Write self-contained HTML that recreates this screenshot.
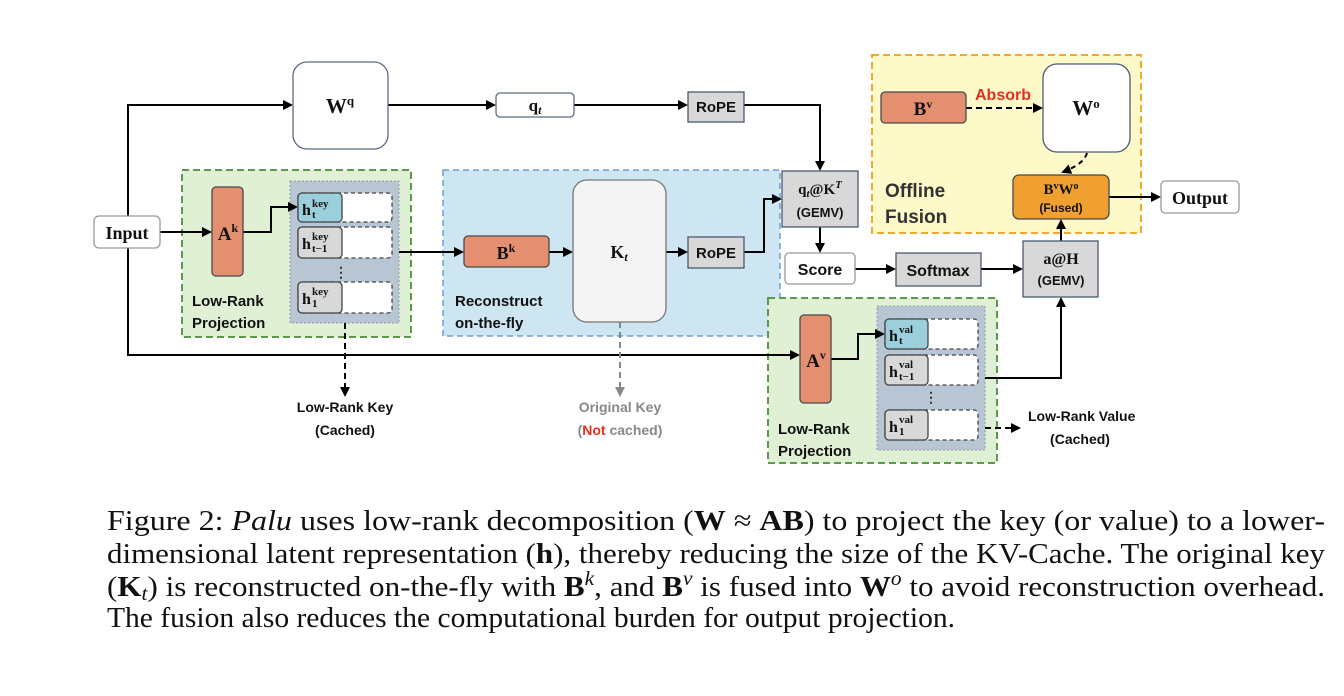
<!DOCTYPE html>
<html><head><meta charset="utf-8"><style>
html,body{margin:0;padding:0;background:#fff;}
svg{display:block;}
.s{font-family:"Liberation Sans",sans-serif;font-weight:bold;}
.m{font-family:"Liberation Serif",serif;font-weight:bold;}
.c{font-family:"Liberation Serif",serif;font-size:29px;}
</style></head><body>
<svg width="1344" height="696" viewBox="0 0 1344 696" xmlns="http://www.w3.org/2000/svg">
<defs>
<marker id="a" markerWidth="10" markerHeight="10" refX="8" refY="5" orient="auto" markerUnits="userSpaceOnUse"><path d="M0,0 L10,5 L0,10 z" fill="#000"/></marker>
<marker id="g" markerWidth="10" markerHeight="10" refX="8" refY="5" orient="auto" markerUnits="userSpaceOnUse"><path d="M0,0 L10,5 L0,10 z" fill="#888"/></marker>
</defs>
<rect x="182" y="170" width="229" height="167" fill="#e0f0d4" stroke="#5a9a4a" stroke-width="2" stroke-dasharray="7,4"/>
<rect x="443" y="170" width="337" height="166" fill="#cde6f2" stroke="#6a9fd8" stroke-width="1.5" stroke-dasharray="6,4"/>
<rect x="872" y="55" width="269" height="178" fill="#fdf9c8" stroke="#f0a830" stroke-width="2" stroke-dasharray="7,4"/>
<rect x="768" y="298" width="229" height="165" fill="#e0f0d4" stroke="#5a9a4a" stroke-width="2" stroke-dasharray="7,4"/>
<rect x="290" y="181" width="109" height="142" fill="#b8c6d4" stroke="#8a98a8" stroke-width="1" stroke-dasharray="2,2"/>
<rect x="877" y="306" width="108" height="144" fill="#b8c6d4" stroke="#8a98a8" stroke-width="1" stroke-dasharray="2,2"/>

<g fill="none" stroke="#000" stroke-width="2">
<polyline points="128,216 128,105 291,105" marker-end="url(#a)"/>
<polyline points="128,248 128,355 798,355" marker-end="url(#a)"/>
<line x1="160" y1="232" x2="210" y2="232" marker-end="url(#a)"/>
<line x1="388" y1="105" x2="494" y2="105" marker-end="url(#a)"/>
<line x1="574" y1="105" x2="686" y2="105" marker-end="url(#a)"/>
<polyline points="744,105 820,105 820,169" marker-end="url(#a)"/>
<polyline points="243,232 271,232 271,207 296,207" marker-end="url(#a)"/>
<line x1="399" y1="252" x2="462" y2="252" marker-end="url(#a)"/>
<line x1="549" y1="252" x2="571" y2="252" marker-end="url(#a)"/>
<line x1="666" y1="252" x2="686" y2="252" marker-end="url(#a)"/>
<polyline points="744,252 764,252 764,199 780,199" marker-end="url(#a)"/>
<line x1="820" y1="227" x2="820" y2="251" marker-end="url(#a)"/>
<line x1="855" y1="269" x2="894" y2="269" marker-end="url(#a)"/>
<line x1="981" y1="269" x2="1021" y2="269" marker-end="url(#a)"/>
<line x1="1061" y1="241" x2="1061" y2="221" marker-end="url(#a)"/>
<line x1="1109" y1="197" x2="1159" y2="197" marker-end="url(#a)"/>
<polyline points="831,359 858,359 858,334 883,334" marker-end="url(#a)"/>
<polyline points="985,378 1061,378 1061,299" marker-end="url(#a)"/>
<line x1="345" y1="323" x2="345" y2="395" stroke-dasharray="6,4" marker-end="url(#a)"/>
<line x1="985" y1="428" x2="1019" y2="428" stroke-dasharray="6,4" marker-end="url(#a)"/>
<line x1="966" y1="108" x2="1041" y2="108" stroke-dasharray="6,4" marker-end="url(#a)"/>
<path d="M1087,153 Q1084,164 1063,172" stroke-dasharray="5,4" marker-end="url(#a)"/>
<line x1="620" y1="322" x2="620" y2="395" stroke="#888" stroke-dasharray="6,4" marker-end="url(#g)"/>
</g>

<g stroke="#555" stroke-width="1.3">
<rect x="94" y="216" width="66" height="32" rx="5" fill="#fff" stroke="#999"/>
<rect x="293" y="62" width="95" height="87" rx="14" fill="#fff" stroke="#5a6a80"/>
<rect x="496" y="93" width="78" height="24" rx="4" fill="#fff" stroke="#5a6a80"/>
<rect x="688" y="92" width="56" height="30" fill="#d8d8d8" stroke="#4a5a70"/>
<rect x="782" y="171" width="76" height="56" fill="#d8d8d8" stroke="#4a5a70"/>
<rect x="212" y="187" width="31" height="89" rx="4" fill="#e49070" stroke="#4a4a4a"/>
<rect x="464" y="236" width="85" height="31" rx="4" fill="#e49070" stroke="#4a4a4a"/>
<rect x="573" y="180" width="93" height="142" rx="14" fill="#f4f4f4" stroke="#777"/>
<rect x="688" y="237" width="56" height="31" fill="#d8d8d8" stroke="#4a5a70"/>
<rect x="785" y="253" width="70" height="31" rx="4" fill="#fff" stroke="#999"/>
<rect x="896" y="253" width="85" height="33" fill="#d8d8d8" stroke="#4a5a70"/>
<rect x="1023" y="241" width="75" height="56" fill="#d8d8d8" stroke="#4a5a70"/>
<rect x="881" y="92" width="85" height="31" rx="4" fill="#e49070" stroke="#4a4a4a"/>
<rect x="1043" y="64" width="87" height="88" rx="14" fill="#fff" stroke="#4a5a70"/>
<rect x="1013" y="175" width="96" height="44" rx="6" fill="#f0a030" stroke="#4a4a4a"/>
<rect x="1161" y="181" width="78" height="32" rx="4" fill="#fff" stroke="#999"/>
<rect x="800" y="315" width="31" height="88" rx="4" fill="#e49070" stroke="#4a4a4a"/>
</g>
<g stroke-width="1.3">
<rect x="298" y="193" width="94" height="29" rx="4" fill="#fff" stroke="#444" stroke-dasharray="4,3"/>
<rect x="298" y="193" width="44" height="29" rx="4" fill="#9ccfdc" stroke="#444"/>
<rect x="298" y="227" width="94" height="31" rx="4" fill="#fff" stroke="#444" stroke-dasharray="4,3"/>
<rect x="298" y="227" width="44" height="31" rx="4" fill="#d8d8d8" stroke="#444"/>
<rect x="298" y="282" width="94" height="31" rx="4" fill="#fff" stroke="#444" stroke-dasharray="4,3"/>
<rect x="298" y="282" width="44" height="31" rx="4" fill="#d8d8d8" stroke="#444"/>
<rect x="885" y="319" width="93" height="30" rx="4" fill="#fff" stroke="#444" stroke-dasharray="4,3"/>
<rect x="885" y="319" width="43" height="30" rx="4" fill="#9ccfdc" stroke="#444"/>
<rect x="885" y="355" width="93" height="30" rx="4" fill="#fff" stroke="#444" stroke-dasharray="4,3"/>
<rect x="885" y="355" width="43" height="30" rx="4" fill="#d8d8d8" stroke="#444"/>
<rect x="885" y="410" width="93" height="30" rx="4" fill="#fff" stroke="#444" stroke-dasharray="4,3"/>
<rect x="885" y="410" width="43" height="30" rx="4" fill="#d8d8d8" stroke="#444"/>
</g>
<g fill="#333" class="m" font-size="14">
<text x="341" y="277" text-anchor="middle">⋮</text>
<text x="931" y="402" text-anchor="middle">⋮</text>
</g>

<g class="m" fill="#111">
<text x="127" y="239" text-anchor="middle" font-size="18">Input</text>
<text x="340" y="113" text-anchor="middle" font-size="21">W<tspan font-size="13" dy="-8">q</tspan></text>
<text x="535" y="111" text-anchor="middle" font-size="17">q<tspan font-size="12" dy="3" font-style="italic">t</tspan></text>
<text x="228" y="240" text-anchor="middle" font-size="19">A<tspan font-size="12" dy="-8">k</tspan></text>
<text x="506" y="259" text-anchor="middle" font-size="18">B<tspan font-size="12" dy="-7">k</tspan></text>
<text x="619" y="258" text-anchor="middle" font-size="18">K<tspan font-size="12" dy="3" font-style="italic">t</tspan></text>
<text x="820" y="194" text-anchor="middle" font-size="15">q<tspan font-size="11" dy="3" font-style="italic">t</tspan><tspan dy="-3">@K</tspan><tspan font-size="11" dy="-6" font-style="italic">T</tspan></text>
<text x="923" y="115" text-anchor="middle" font-size="19">B<tspan font-size="12" dy="-7">v</tspan></text>
<text x="1086" y="115" text-anchor="middle" font-size="21">W<tspan font-size="13" dy="-7">o</tspan></text>
<text x="1061" y="194" text-anchor="middle" font-size="15">B<tspan font-size="10" dy="-5">v</tspan><tspan dy="5">W</tspan><tspan font-size="10" dy="-5">o</tspan></text>
<text x="1200" y="204" text-anchor="middle" font-size="18">Output</text>
<text x="1061" y="264" text-anchor="middle" font-size="16">a@H</text>
<text x="816" y="367" text-anchor="middle" font-size="19">A<tspan font-size="12" dy="-8">v</tspan></text>
<g font-size="16">
<text x="302" y="215">h</text><text x="312" y="207" font-size="11">key</text><text x="312" y="218" font-size="11">t</text>
<text x="302" y="249">h</text><text x="312" y="240" font-size="11">key</text><text x="312" y="252" font-size="11">t−1</text>
<text x="302" y="304">h</text><text x="312" y="295" font-size="11">key</text><text x="312" y="307" font-size="11">1</text>
<text x="889" y="341">h</text><text x="899" y="333" font-size="11">val</text><text x="899" y="344" font-size="11">t</text>
<text x="889" y="377">h</text><text x="899" y="368" font-size="11">val</text><text x="899" y="380" font-size="11">t−1</text>
<text x="889" y="432">h</text><text x="899" y="423" font-size="11">val</text><text x="899" y="435" font-size="11">1</text>
</g>
</g>
<g class="s" fill="#111">
<text x="716" y="112" text-anchor="middle" font-size="15">RoPE</text>
<text x="716" y="258" text-anchor="middle" font-size="15">RoPE</text>
<text x="820" y="217" text-anchor="middle" font-size="13">(GEMV)</text>
<text x="820" y="275" text-anchor="middle" font-size="16">Score</text>
<text x="938" y="276" text-anchor="middle" font-size="16">Softmax</text>
<text x="1061" y="285" text-anchor="middle" font-size="13">(GEMV)</text>
<text x="1061" y="212" text-anchor="middle" font-size="12">(Fused)</text>
<text x="1003" y="100" text-anchor="middle" font-size="16" fill="#e03020">Absorb</text>
<text x="885" y="197" font-size="19" fill="#333">Offline</text>
<text x="885" y="223" font-size="19" fill="#333">Fusion</text>
<text x="192" y="306" font-size="15">Low-Rank</text>
<text x="192" y="328" font-size="15">Projection</text>
<text x="455" y="306" font-size="15">Reconstruct</text>
<text x="455" y="328" font-size="15">on-the-fly</text>
<text x="778" y="434" font-size="15">Low-Rank</text>
<text x="778" y="456" font-size="15">Projection</text>
<text x="345" y="412" text-anchor="middle" font-size="14">Low-Rank Key</text>
<text x="345" y="435" text-anchor="middle" font-size="14">(Cached)</text>
<text x="620" y="412" text-anchor="middle" font-size="14" fill="#888">Original Key</text>
<text x="620" y="435" text-anchor="middle" font-size="14" fill="#888">(<tspan fill="#e03020">Not</tspan> cached)</text>
<text x="1028" y="421" font-size="14">Low-Rank Value</text>
<text x="1080" y="444" text-anchor="middle" font-size="14">(Cached)</text>
</g>

<g class="c" fill="#111">
<text x="107" y="530" textLength="1218" lengthAdjust="spacingAndGlyphs">Figure 2: <tspan font-style="italic">Palu</tspan> uses low-rank decomposition (<tspan font-weight="bold">W</tspan> ≈ <tspan font-weight="bold">AB</tspan>) to project the key (or value) to a lower-</text>
<text x="107" y="563" textLength="1218" lengthAdjust="spacingAndGlyphs">dimensional latent representation (<tspan font-weight="bold">h</tspan>), thereby reducing the size of the KV-Cache. The original key</text>
<text x="107" y="596" textLength="1218" lengthAdjust="spacingAndGlyphs">(<tspan font-weight="bold">K</tspan><tspan font-size="20" dy="4" font-style="italic">t</tspan><tspan dy="-4">) is reconstructed on-the-fly with </tspan><tspan font-weight="bold">B</tspan><tspan font-size="20" dy="-11" font-style="italic">k</tspan><tspan dy="11">, and </tspan><tspan font-weight="bold">B</tspan><tspan font-size="20" dy="-11" font-style="italic">v</tspan><tspan dy="11"> is fused into </tspan><tspan font-weight="bold">W</tspan><tspan font-size="20" dy="-11" font-style="italic">o</tspan><tspan dy="11"> to avoid reconstruction overhead.</tspan></text>
<text x="107" y="627" textLength="848" lengthAdjust="spacingAndGlyphs">The fusion also reduces the computational burden for output projection.</text>
</g>
</svg>
</body></html>
